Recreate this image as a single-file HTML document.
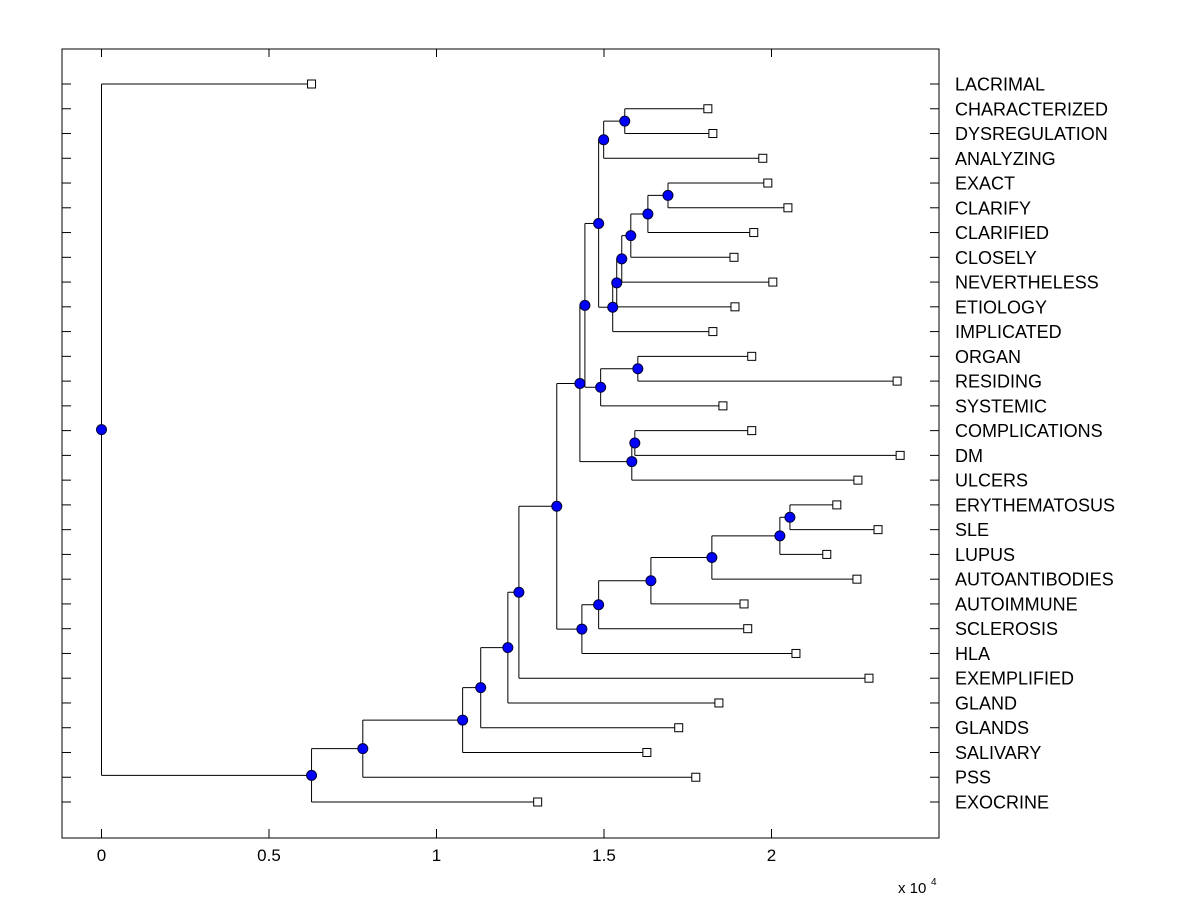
<!DOCTYPE html>
<html><head><meta charset="utf-8"><style>
html,body{margin:0;padding:0;background:#fff;}
svg{display:block;font-family:"Liberation Sans",Arial,sans-serif;}
</style></head><body>
<svg id="chart" width="1200" height="900" viewBox="0 0 1200 900" xmlns="http://www.w3.org/2000/svg">
<rect x="0" y="0" width="1200" height="900" fill="#fff"/>
<g id="plot"></g>
</svg>
<script>
const leafNames=["LACRIMAL","CHARACTERIZED","DYSREGULATION","ANALYZING","EXACT","CLARIFY","CLARIFIED","CLOSELY","NEVERTHELESS","ETIOLOGY","IMPLICATED","ORGAN","RESIDING","SYSTEMIC","COMPLICATIONS","DM","ULCERS","ERYTHEMATOSUS","SLE","LUPUS","AUTOANTIBODIES","AUTOIMMUNE","SCLEROSIS","HLA","EXEMPLIFIED","GLAND","GLANDS","SALIVARY","PSS","EXOCRINE"];
const leafHeights=[0.627,1.810,1.825,1.974,1.989,2.049,1.947,1.888,2.004,1.891,1.825,1.941,2.375,1.855,1.941,2.384,2.258,2.195,2.318,2.165,2.255,1.918,1.929,2.073,2.291,1.843,1.723,1.628,1.774,1.302];
const nodeNames=["root","A","B","C","D","E","F","G","H","I","J","K","L","M","N","P","Q","R","S","T","U","V","W","X","Y","Z","AA","BB","CC"];
const nodeHeights=[0,0.627,0.780,1.078,1.132,1.213,1.246,1.359,1.428,1.434,1.484,1.640,1.822,2.025,2.055,1.443,1.583,1.592,1.484,1.490,1.601,1.499,1.526,1.562,1.538,1.553,1.580,1.631,1.691];
const nodeChildren=[["LACRIMAL","A"],["B","EXOCRINE"],["C","PSS"],["D","SALIVARY"],["E","GLANDS"],["F","GLAND"],["G","EXEMPLIFIED"],["H","I"],["P","Q"],["J","HLA"],["K","SCLEROSIS"],["L","AUTOIMMUNE"],["M","AUTOANTIBODIES"],["N","LUPUS"],["ERYTHEMATOSUS","SLE"],["S","T"],["R","ULCERS"],["COMPLICATIONS","DM"],["V","W"],["U","SYSTEMIC"],["ORGAN","RESIDING"],["X","ANALYZING"],["Y","IMPLICATED"],["CHARACTERIZED","DYSREGULATION"],["Z","ETIOLOGY"],["AA","NEVERTHELESS"],["BB","CLOSELY"],["CC","CLARIFIED"],["EXACT","CLARIFY"]];
const xTicks=[0,0.5,1,1.5,2];
const xTickLabels=["0","0.5","1","1.5","2"];

const NS="http://www.w3.org/2000/svg";
const g=document.getElementById('plot');
const L=62,R=939,T=49,B=838;
const xs=v=>101.5+v*335;
const rowY=i=>84+i*(802-84)/29;
function el(tag,attrs,parent){const e=document.createElementNS(NS,tag);for(const k in attrs)e.setAttribute(k,attrs[k]);(parent||g).appendChild(e);return e;}

const box=el('rect',{x:L,y:T,width:R-L,height:B-T,fill:'none',stroke:'#000','stroke-width':1});


xTicks.forEach((v,i)=>{
  const x=xs(v);
  const t=el('line',{x1:x,y1:B,x2:x,y2:B-9,stroke:'#000'});
  
  
  const t2=el('line',{x1:x,y1:T,x2:x,y2:T+8,stroke:'#000'});
  
  
  const tx=el('text',{x:x,y:861,'text-anchor':'middle','font-size':17,fill:'#000'});
  tx.textContent=xTickLabels[i];
  
  
});
const ex=el('text',{x:898,y:893,'font-size':15,fill:'#000'});
ex.textContent='x 10';


const ex2=el('text',{x:931,y:885,'font-size':10,fill:'#000'});
ex2.textContent='4';



const pos={};
leafNames.forEach((n,i)=>{pos[n]={x:xs(leafHeights[i]),y:rowY(i),leaf:true};});
const nodeIdx={};nodeNames.forEach((n,i)=>nodeIdx[n]=i);
function place(n){
  if(pos[n])return pos[n];
  const i=nodeIdx[n];
  const c=nodeChildren[i].map(place);
  pos[n]={x:xs(nodeHeights[i]),y:(c[0].y+c[1].y)/2,leaf:false};
  return pos[n];
}
place('root');

leafNames.forEach((n,i)=>{
  const y=rowY(i);
  const a=el('line',{x1:L,y1:y,x2:L+9,y2:y,stroke:'#000'});
  
  
  const b=el('line',{x1:R-9,y1:y,x2:R,y2:y,stroke:'#000'});
  
  
  const t=el('text',{x:955,y:y+6.5,'font-size':18,fill:'#000'});
  t.textContent=n;
  
  
});

nodeNames.forEach((n,i)=>{
  const p=pos[n];
  const c=nodeChildren[i].map(k=>pos[k]);
  const v=el('line',{x1:p.x,y1:c[0].y,x2:p.x,y2:c[1].y,stroke:'#000','stroke-width':1});
  
  
  c.forEach(cc=>{
    const h=el('line',{x1:p.x,y1:cc.y,x2:cc.x,y2:cc.y,stroke:'#000','stroke-width':1});
    
    
  });
});
leafNames.forEach(n=>{
  const p=pos[n];
  const s=el('rect',{x:p.x-4,y:p.y-4,width:8,height:8,fill:'#fff',stroke:'#000','stroke-width':1});
  
  
});
nodeNames.forEach(n=>{
  const p=pos[n];
  const c=el('circle',{cx:p.x,cy:p.y,r:5,fill:'#0000ff',stroke:'#000033','stroke-width':1});
  
  
});
</script>
</body></html>
